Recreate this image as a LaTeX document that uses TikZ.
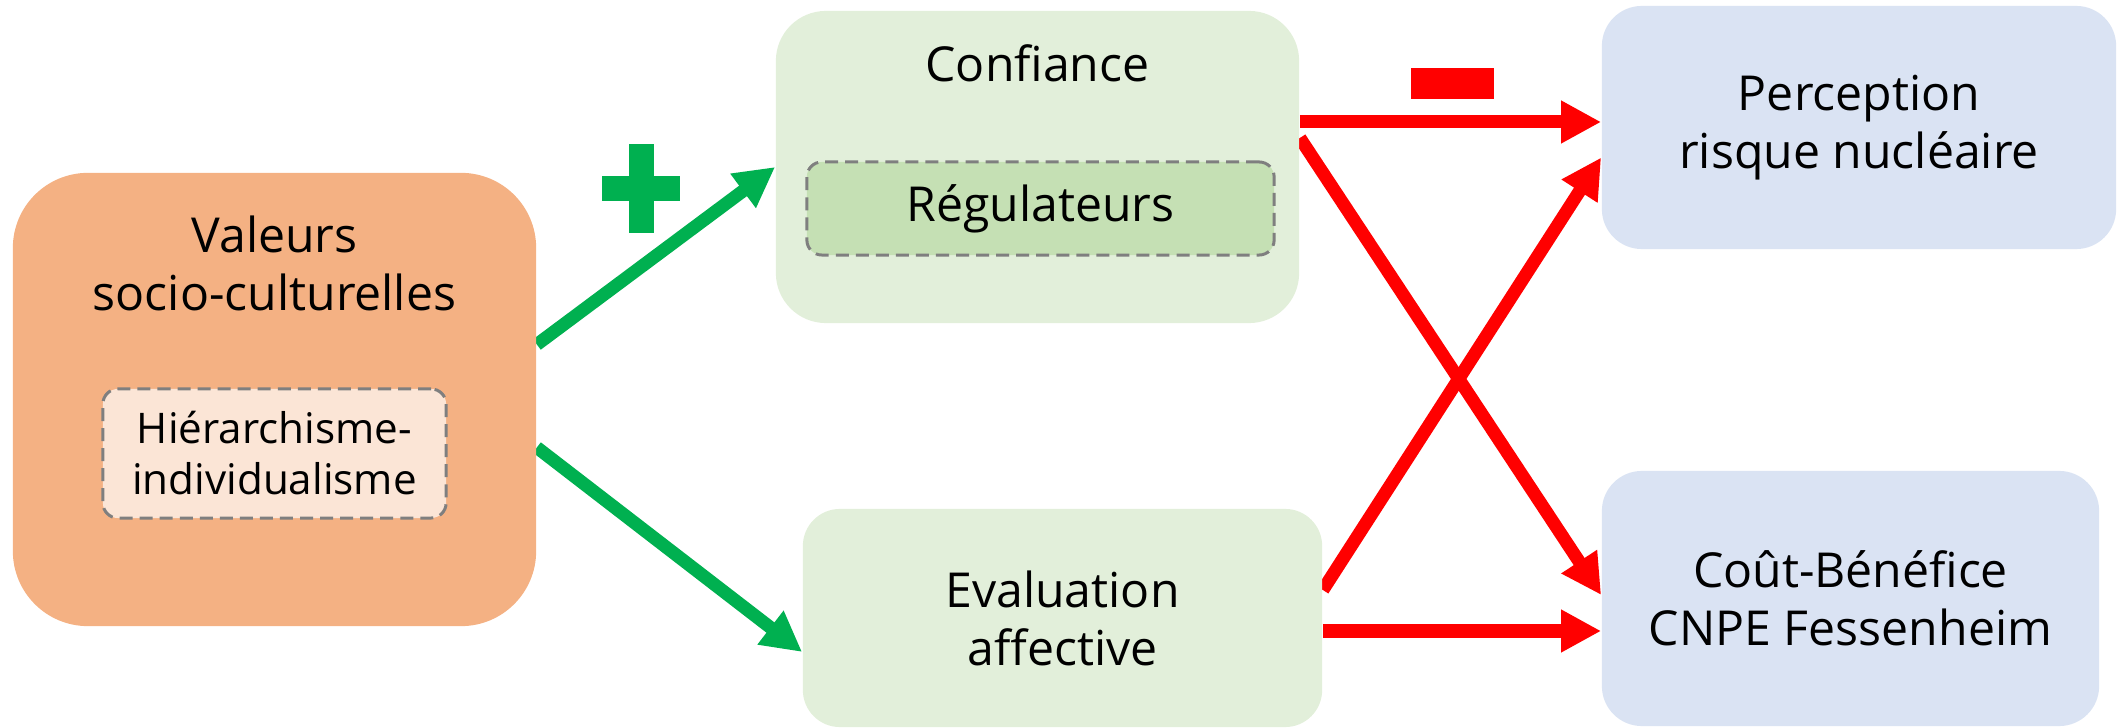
\documentclass[tikz,border=0pt]{standalone}
\usepackage{fontspec}
\setmainfont{Open Sans}
\usepackage{xcolor}
\usetikzlibrary{arrows.meta, positioning, calc, backgrounds}

\definecolor{orangeval}{HTML}{F4B183}
\definecolor{orangeclair}{HTML}{FBE5D6}
\definecolor{vertclair}{HTML}{E2EFDA}
\definecolor{vertmoyen}{HTML}{C5E0B4}
\definecolor{bleuclair}{HTML}{DAE3F3}
\definecolor{vertfleche}{HTML}{00B050}
\definecolor{rougefleche}{HTML}{FF0000}
\definecolor{griscadre}{HTML}{7F7F7F}

\tikzset{
	grandtexte/.style={font=\fontsize{13.7}{16.5}\selectfont, align=center},
	boite/.style={grandtexte, inner sep=0pt},
	souscadre/.style={inner sep=0pt, align=center, rounded corners=0.15cm, draw=griscadre, line width=0.85pt, dash pattern=on 3.7pt off 2pt},
	fleche/.style={line width=3.7pt, -{Triangle[length=4mm, width=4mm]}}
}

\begin{document}
\begin{tikzpicture}[x=0.01cm, y=-0.01cm]
			\useasboundingbox (0, 0) rectangle (2121, 728);
			% boites
			\node [boite, fill=orangeval, rounded corners=0.75cm, minimum width=5.23cm, minimum height=4.53cm] (val) at (274.5, 399.5) {};
			\node [grandtexte] (valtxt) at (274.5, 263) {Valeurs\\socio-culturelles};
			\node [souscadre, fill=orangeclair, minimum width=3.43cm, minimum height=1.29cm, font=\fontsize{12}{14.5}\selectfont] (hier) at (274.5, 453.5) {Hiérarchisme-\\individualisme};
			\node [boite, fill=vertclair, rounded corners=0.5cm, minimum width=5.23cm, minimum height=3.12cm] (conf) at (1037.5, 167) {};
			\node [grandtexte, anchor=base] (conftxt) at (1037.5, 82) {Confiance};
			\node [souscadre, grandtexte, fill=vertmoyen, minimum width=4.67cm, minimum height=0.93cm] (regl) at (1040.5, 208.5) {Régulateurs};
			\node [boite, fill=vertclair, rounded corners=0.37cm, minimum width=5.19cm, minimum height=2.18cm] (eval) at (1062.5, 618) {Evaluation\\affective};
			\node [boite, fill=bleuclair, rounded corners=0.4cm, minimum width=5.14cm, minimum height=2.43cm] (perc) at (1859, 127.5) {Perception\\risque nucléaire};
			\node [boite, fill=bleuclair, rounded corners=0.4cm, minimum width=4.97cm, minimum height=2.55cm] (cout) at (1850.5, 598.5) {Coût-Bénéfice\\CNPE Fessenheim};
			% fleches sous les boites
			\begin{scope}[on background layer]
				\draw [fleche, vertfleche] ($(val.east)+(0, -55)$) -- (conf.west);
				\draw [fleche, vertfleche] ($(val.east)+(0, 48)$) -- ($(eval.west)+(0, 34)$);
				\draw [fleche, rougefleche] ($(conf.east)+(0, -45)$) -- ($(perc.west)+(0, -5.5)$);
				\draw [fleche, rougefleche] ($(conf.east)+(0, -29)$) -- ($(cout.west)+(0, -3.5)$);
				\draw [fleche, rougefleche] ($(eval.east)+(0, -28)$) -- ($(perc.west)+(0, 30)$);
				\draw [fleche, rougefleche] ($(eval.east)+(0, 13)$) -- ($(cout.west)+(0, 32.5)$);
			\end{scope}
			% signes + et -
			\fill [vertfleche] (629, 144) rectangle (654, 233);
			\fill [vertfleche] (602, 176) rectangle (680, 201);
			\fill [rougefleche] (1411, 68) rectangle (1494, 99);
		\end{tikzpicture}
\end{document}
